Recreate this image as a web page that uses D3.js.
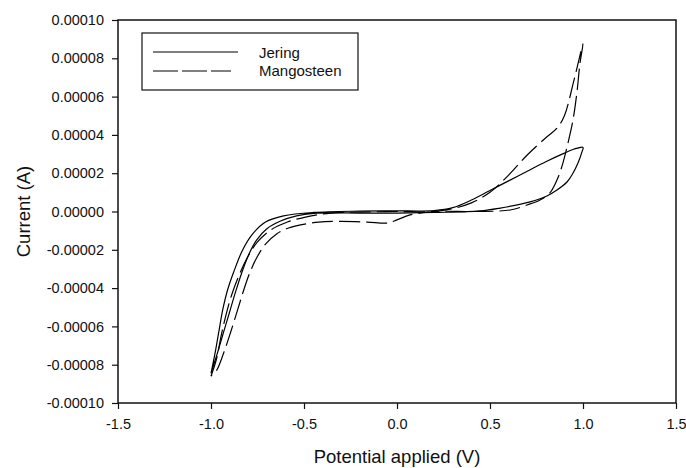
<!DOCTYPE html>
<html>
<head>
<meta charset="utf-8">
<title>Cyclic voltammogram</title>
<script src="https://d3js.org/d3.v7.min.js"></script>
<style>
    body { margin: 0; background: #fff; }
    text { font-family: Arial, "Liberation Sans", sans-serif; fill: #111; }
</style>
</head>
<body>
<script>

    // Jering (solid): one full cycle, starting at the -1.0 V tip
    var jeringV = [-1.0, -0.98, -0.959, -0.937, -0.911, -0.878, -0.83, -0.776, -0.707, -0.61, -0.45, -0.2, 0.0, 0.2, 0.3, 0.4, 0.5, 0.6, 0.7, 0.8, 0.9, 0.95, 1.0,
                   0.994, 0.973, 0.946, 0.914, 0.86, 0.806, 0.715, 0.555, 0.447, 0.2, 0.0, -0.2, -0.449, -0.54, -0.626, -0.701, -0.755, -0.798, -0.835, -0.868, -0.9, -0.932, -0.964, -1.0];
    var jeringI = [-8.45e-5, -7.49e-5, -6.34e-5, -5.14e-5, -4.1e-5, -3.16e-5, -2.01e-5, -1.17e-5, -0.55e-5, -0.23e-5, -0.05e-5, 0.02e-5, 0.03e-5, 0.05e-5, 0.2e-5, 0.6e-5, 1.1e-5, 1.6e-5, 2.1e-5, 2.6e-5, 3.05e-5, 3.25e-5, 3.35e-5,
                   3.1e-5, 2.53e-5, 2.0e-5, 1.54e-5, 1.12e-5, 0.81e-5, 0.5e-5, 0.18e-5, 0.03e-5, -0.05e-5, -0.08e-5, -0.08e-5, -0.1e-5, -0.23e-5, -0.5e-5, -0.91e-5, -1.49e-5, -2.27e-5, -3.21e-5, -4.2e-5, -5.25e-5, -6.29e-5, -7.34e-5, -8.45e-5];

    // Mangosteen (dashed)
    var mangoV = [-1.0, -0.969, -0.948, -0.921, -0.889, -0.851, -0.803, -0.75, -0.68, -0.589, -0.492, -0.358, -0.197, 0.0, 0.2, 0.3, 0.4, 0.5, 0.6, 0.7, 0.8, 0.86, 0.9, 0.95, 1.0,
                  0.984, 0.967, 0.946, 0.919, 0.892, 0.86, 0.822, 0.769, 0.699, 0.608, 0.4, 0.22, 0.07, 0.0, -0.05, -0.16, -0.3, -0.422, -0.519, -0.583, -0.647, -0.707, -0.755, -0.792, -0.824, -0.857, -0.894, -0.932, -0.969, -1.0];
    var mangoI = [-8.6e-5, -7.65e-5, -6.61e-5, -5.46e-5, -4.36e-5, -3.37e-5, -2.38e-5, -1.59e-5, -0.97e-5, -0.55e-5, -0.29e-5, -0.08e-5, -0.03e-5, 0.0, 0.0, 0.15e-5, 0.45e-5, 1.0e-5, 1.9e-5, 2.95e-5, 3.85e-5, 4.35e-5, 5.0e-5, 6.8e-5, 8.75e-5,
                  7.75e-5, 6.19e-5, 4.77e-5, 3.57e-5, 2.53e-5, 1.64e-5, 0.97e-5, 0.6e-5, 0.34e-5, 0.08e-5, 0.0, 0.0, -0.18e-5, -0.44e-5, -0.6e-5, -0.55e-5, -0.52e-5, -0.55e-5, -0.7e-5, -0.86e-5, -1.17e-5, -1.7e-5, -2.43e-5, -3.21e-5, -4.1e-5, -5.14e-5, -6.29e-5, -7.39e-5, -8.28e-5, -8.6e-5];

    var xTicks = [-1.5, -1.0, -0.5, 0.0, 0.5, 1.0, 1.5];
    var yTicks = [-0.0001, -0.00008, -0.00006, -0.00004, -0.00002, 0, 0.00002, 0.00004, 0.00006, 0.00008, 0.0001];

    var seriesNames = ["Jering", "Mangosteen"];

    var width = 686,
        height = 468;

    var plotLeft = 118, plotRight = 676, plotTop = 20, plotBottom = 403;

    var svg = d3.select("body")
        .append("svg")
        .attr("width", width)
        .attr("height", height);

    var x = d3.scaleLinear().domain([-1.5, 1.5]).range([plotLeft, plotRight]);
    var y = d3.scaleLinear().domain([-0.0001, 0.0001]).range([plotBottom, plotTop]);

    //axes
    var xAxis = d3.axisBottom(x).tickValues(xTicks).tickSize(6).tickPadding(10)
        .tickFormat(function (d) { return d.toFixed(1); });
    var yAxis = d3.axisLeft(y).tickValues(yTicks).tickSize(6).tickPadding(8)
        .tickFormat(function (d) { return d.toFixed(5); });

    svg.append("g").attr("transform", "translate(0," + plotBottom + ")").call(xAxis);
    svg.append("g").attr("transform", "translate(" + plotLeft + ",0)").call(yAxis);

    svg.selectAll(".domain").remove();
    svg.selectAll(".tick line").attr("stroke", "#111").attr("stroke-width", 1.2);
    svg.selectAll(".tick text").attr("font-size", 14.5).attr("font-family", "Arial, 'Liberation Sans', sans-serif").attr("fill", "#111");

    // frame
    svg.append("rect")
        .attr("x", plotLeft).attr("y", plotTop)
        .attr("width", plotRight - plotLeft).attr("height", plotBottom - plotTop)
        .attr("fill", "none").attr("stroke", "#111").attr("stroke-width", 1.5);

    // titles
    svg.append("text")
        .attr("x", x(0)).attr("y", 463)
        .attr("text-anchor", "middle").attr("font-size", 18.5)
        .text("Potential applied (V)");

    svg.append("text")
        .attr("transform", "translate(30," + y(0) + ") rotate(-90)")
        .attr("text-anchor", "middle").attr("font-size", 18.5)
        .text("Current (A)");

    //curves
    var line = d3.line()
        .x(function (d) { return x(d[0]); })
        .y(function (d) { return y(d[1]); })
        .curve(d3.curveCatmullRom.alpha(0.5));

    var jering = d3.zip(jeringV, jeringI);
    var mango = d3.zip(mangoV, mangoI);

    var plot = svg.append("g");
    plot.append("path")
        .datum(jering)
        .attr("fill", "none").attr("stroke", "#000").attr("stroke-width", 1.2)
        .attr("d", line);
    plot.append("path")
        .datum(mango)
        .attr("fill", "none").attr("stroke", "#000").attr("stroke-width", 1.2)
        .attr("stroke-dasharray", "21,6")
        .attr("d", line);

    // legend
    var legend = svg.append("g");
    legend.append("rect")
        .attr("x", 142).attr("y", 33).attr("width", 216).attr("height", 57)
        .attr("fill", "#fff").attr("stroke", "#111").attr("stroke-width", 1.2);

    legend.selectAll("line")
        .data(seriesNames)
        .enter()
        .append("line")
        .attr("x1", 153).attr("x2", function (d, i) { return i ? 231 : 238; })
        .attr("y1", function (d, i) { return 52 + i * 19; })
        .attr("y2", function (d, i) { return 52 + i * 19; })
        .attr("stroke", "#000").attr("stroke-width", 1.2)
        .attr("stroke-dasharray", function (d, i) { return i ? "25,4" : null; });

    legend.selectAll("text")
        .data(seriesNames)
        .enter()
        .append("text")
        .attr("x", 259)
        .attr("y", function (d, i) { return 58 + i * 18; })
        .attr("font-size", 15)
        .text(function (d) { return d; });

</script>
</body>
</html>
